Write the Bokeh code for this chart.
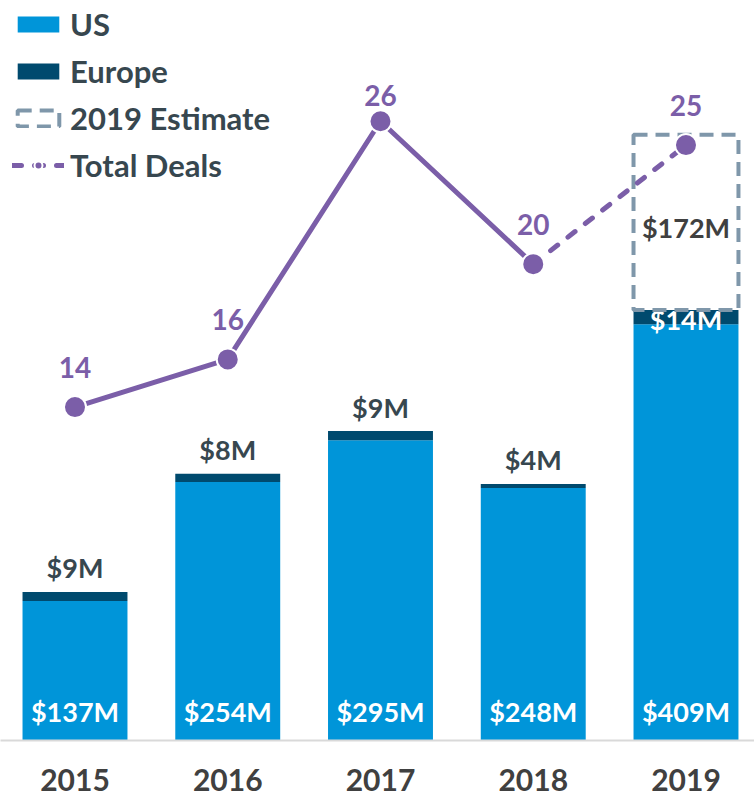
from bokeh.plotting import figure
from bokeh.models import Range1d, FixedTicker, ColumnDataSource, Legend, LegendItem
from bokeh.core.properties import value
from bokeh.embed import file_html
from bokeh.resources import INLINE

# ---- data ----
years = ["2015", "2016", "2017", "2018", "2019"]
us = [137, 254, 295, 248, 409]
europe = [9, 8, 9, 4, 14]
estimate_2019 = 172
deals = [14, 16, 26, 20, 25]

# ---- styles ----
BLUE = "#0095D9"
NAVY = "#004A6E"
PURPLE = "#7B5EA8"
GRAY_DASH = "#7F97AA"
SLATE = "#37474F"
DARK = "#404040"
FONT = value("Lato")
FS = "27px"

xs = list(range(len(years)))
bar_w = 0.687

p = figure(width=754, height=796,
           x_range=Range1d(-0.4877, 4.4485), y_range=Range1d(0, 727),
           output_backend="svg", toolbar_location=None, y_axis_location=None,
           min_border_left=0, min_border_right=0, min_border_top=0, min_border_bottom=56,
           outline_line_color=None, background_fill_color="white")
p.extra_y_ranges = {"deals": Range1d(0, 31.07)}
p.grid.visible = False

ax = p.xaxis[0]
ax.ticker = FixedTicker(ticks=xs)
ax.major_label_overrides = {i: y for i, y in zip(xs, years)}
ax.axis_line_color = "#D9D9D9"
ax.axis_line_width = 2
ax.major_tick_line_color = None
ax.minor_tick_line_color = None
ax.major_label_text_font = "Lato"
ax.major_label_text_font_style = "bold"
ax.major_label_text_font_size = "30px"
ax.major_label_text_color = DARK
ax.major_label_standoff = 22

tops_eu = [u + e for u, e in zip(us, europe)]
src = ColumnDataSource(dict(
    x=xs, us=us, eu_top=tops_eu,
    us_lab=[f"${v}M" for v in us],
    eu_lab=[f"${v}M" for v in europe],
    eu_col=[SLATE, SLATE, SLATE, SLATE, "white"],
    eu_off=[-24, -24, -24, -24, 10],
))

us_bar = p.vbar(x="x", top="us", bottom=0, width=bar_w, source=src,
                fill_color=BLUE, line_color=None)
eu_bar = p.vbar(x="x", bottom="us", top="eu_top", width=bar_w, source=src,
                fill_color=NAVY, line_color=None)

p.text(x="x", y=0, text="us_lab", source=src, text_align="center",
       text_baseline="middle", y_offset=-29, text_font=FONT,
       text_font_style="bold", text_font_size=FS, text_color="white")
p.text(x="x", y="eu_top", text="eu_lab", source=src, text_align="center",
       text_baseline="middle", y_offset="eu_off", text_font=FONT,
       text_font_style="bold", text_font_size=FS, text_color="eu_col")

# estimate box
est_src = ColumnDataSource(dict(x=[xs[-1]], bottom=[tops_eu[-1]],
                                top=[tops_eu[-1] + estimate_2019],
                                mid=[tops_eu[-1] + estimate_2019 / 2],
                                lab=[f"${estimate_2019}M"]))
est_box = p.vbar(x="x", bottom="bottom", top="top", width=bar_w, source=est_src,
                 fill_color="white", line_color=GRAY_DASH, line_width=4,
                 line_dash="14 8")
p.text(x="x", y="mid", text="lab", source=est_src, text_align="center",
       text_baseline="middle", y_offset=5, text_font=FONT,
       text_font_style="bold", text_font_size=FS, text_color=DARK)

# deals line
solid = p.line(xs[:4], deals[:4], y_range_name="deals", line_color=PURPLE,
               line_width=5)
dashed = p.line(xs[3:], deals[3:], y_range_name="deals", line_color=PURPLE,
                line_width=5, line_dash="9 13", line_cap="round")
pts = p.scatter(xs, deals, y_range_name="deals", size=22, fill_color=PURPLE,
                line_color="white", line_width=2)
dsrc = ColumnDataSource(dict(x=xs, y=deals, lab=[str(d) for d in deals],
                             off=[-40, -40, -26, -40, -40]))
p.text(x="x", y="y", text="lab", source=dsrc, y_range_name="deals",
       text_align="center", text_baseline="middle", y_offset="off",
       text_font=FONT, text_font_style="bold", text_font_size="28px",
       text_color=PURPLE)

legend = Legend(items=[
    LegendItem(label="US", renderers=[us_bar]),
    LegendItem(label="Europe", renderers=[eu_bar]),
    LegendItem(label="2019 Estimate", renderers=[est_box]),
    LegendItem(label="Total Deals", renderers=[dashed, pts]),
], location=(12, 556), margin=0, padding=0, spacing=9,
   glyph_width=52, glyph_height=20, label_standoff=6,
   background_fill_alpha=0, border_line_color=None,
   label_text_font="Lato", label_text_font_style="bold",
   label_text_font_size="31px", label_text_color=SLATE)
p.add_layout(legend)

open("out.html", "w").write(file_html(p, INLINE))
